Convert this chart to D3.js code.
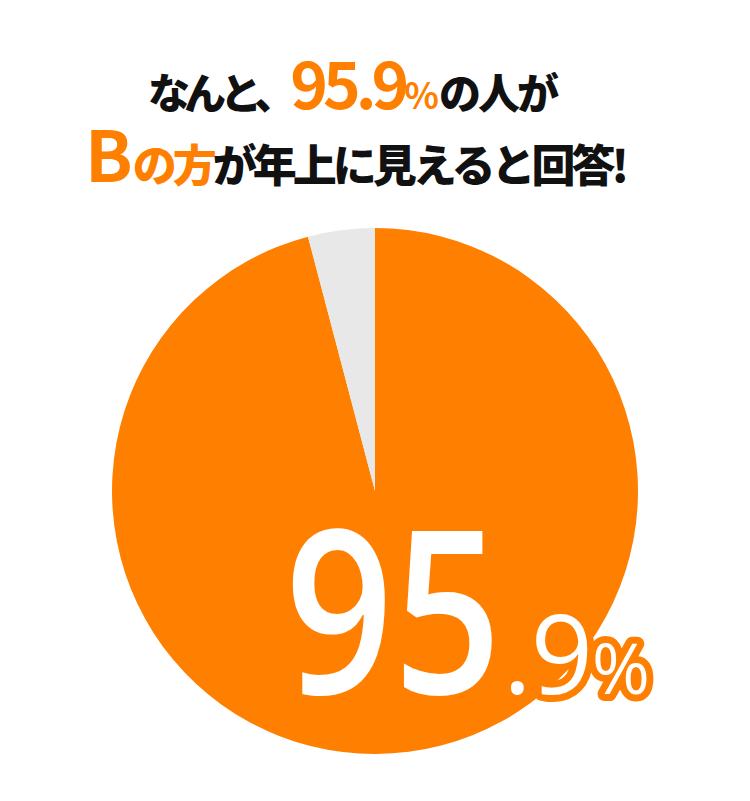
<!DOCTYPE html>
<html>
<head>
<meta charset="utf-8">
<script src="https://cdn.jsdelivr.net/npm/d3@7"></script>
<style>
  body { margin: 0; background: #fff; }
  #chart { width: 750px; height: 801px; }
  .title { font-family: "Noto Sans CJK JP", sans-serif; font-weight: 900; }
  .big { font-family: "Open Sans", sans-serif; }
</style>
</head>
<body>
<div id="chart"></div>
<script>
// chart data
const categories = ["Bの方が年上", "Aの方が年上"];
const values = [95.9, 4.1];
const colors = ["#FF7F00", "#E8E8E8"];

// title pieces: [text, colour key, style key]
const titleLine1 = [["なんと、", "k", "kana"], ["95.9", "o", "num"], ["%", "o", "pct"], ["の人が", "k", "kana2"]];
const titleLine2 = [["B", "o", "b"], ["の方", "o", "m2"], ["が年上に見えると回答!", "k", "m2"]];

const width = 750;
const height = 801;
const orange = colors[0];

const svg = d3.select("#chart")
    .append("svg")
    .attr("width", width)
    .attr("height", height);

//the pie
const cx = 375, cy = 491, radius = 263;

const pie = d3.pie().sort(null).value(d => d);
const arc = d3.arc().innerRadius(0).outerRadius(radius);

svg.append("g")
    .attr("transform", `translate(${cx},${cy})`)
    .selectAll("path")
    .data(pie(values))
    .enter()
    .append("path")
    .attr("d", arc)
    .attr("fill", (d, i) => colors[i]);

//title
const fill = { k: "#111", o: orange };
const style = {
    kana:  { size: 42, ls: -6, w: 900 },
    num:   { size: 64, ls: -5, w: 700 },
    pct:   { size: 36, ls: 0, w: 700 },
    kana2: { size: 42, ls: -3, w: 900 },
    b:     { size: 70, ls: 0, w: 700 },
    m2:    { size: 44, ls: -4, w: 900 }
};

function titleLine(parts, x, y) {
    const t = svg.append("text")
        .attr("class", "title")
        .attr("x", x)
        .attr("y", y)
        .attr("text-anchor", "middle");
    t.selectAll("tspan")
        .data(parts)
        .enter()
        .append("tspan")
        .attr("fill", d => fill[d[1]])
        .attr("font-size", d => style[d[2]].size)
        .attr("font-weight", d => style[d[2]].w)
        .attr("letter-spacing", d => style[d[2]].ls)
        .text(d => d[0]);
}
titleLine(titleLine1, 352, 109);
titleLine(titleLine2, 355, 182);

//big value label, drawn twice: orange outline under, white fill on top
const v = d3.format(".1f")(values[0]).split(".");

function bigLabel(layer) {
    const g = svg.append("g");
    const isStroke = layer === "stroke";
    const style = sel => sel
        .attr("class", "big")
        .attr("fill", isStroke ? orange : "#fff")
        .attr("stroke", isStroke ? orange : "none")
        .attr("stroke-width", 14)
        .attr("stroke-linejoin", "round");

    g.append("text")
        .call(style)
        .attr("transform", "translate(285,694) scale(0.83,1)")
        .attr("font-size", 228)
        .style("font-weight", 600)
        .text(v[0]);

    const t = g.append("text")
        .call(style)
        .attr("x", 503)
        .attr("y", 694)
        .style("font-weight", 400);
    t.append("tspan").attr("font-size", 109).attr("letter-spacing", -1).text("." + v[1]);
    t.append("tspan").attr("font-size", 70).text("%");
}
bigLabel("stroke");
bigLabel("fill");
</script>
</body>
</html>
